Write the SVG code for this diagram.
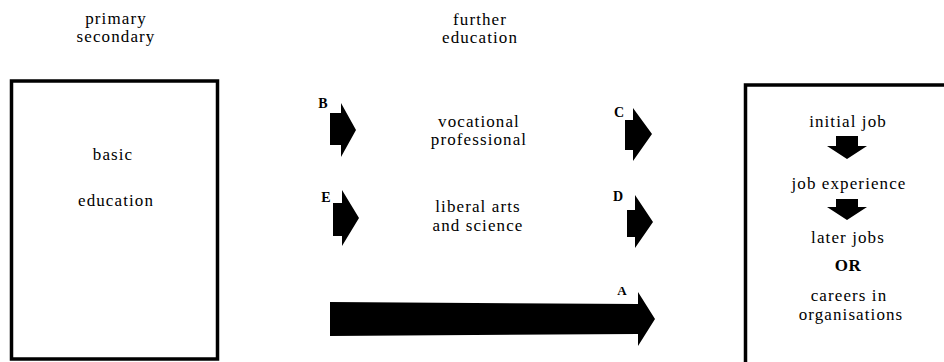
<svg xmlns="http://www.w3.org/2000/svg" width="944" height="362" viewBox="0 0 944 362">
<style>
text{font-family:"Liberation Serif","DejaVu Serif","Times New Roman",serif;font-size:17px;letter-spacing:1.1px;fill:#000;text-anchor:middle}
.lbl{font-size:14px;font-weight:bold;letter-spacing:0}
.bold{font-weight:bold;letter-spacing:0.5px}
.box{fill:none;stroke:#000;stroke-width:3.5}
.arrow{fill:#000;stroke:none}
</style>
<rect width="944" height="362" fill="#fff"/>
<g id="header-school">
<text x="116" y="24">primary</text>
<text x="116" y="42">secondary</text>
</g>
<g id="header-further">
<text x="480" y="25">further</text>
<text x="480" y="43">education</text>
</g>
<g id="basic-education">
<rect class="box" x="11.5" y="81" width="206" height="278"/>
<text x="113" y="160">basic</text>
<text x="116" y="206">education</text>
</g>
<g id="vocational">
<text x="479" y="127">vocational</text>
<text x="479" y="145">professional</text>
</g>
<g id="liberal">
<text x="478" y="212">liberal arts</text>
<text x="478" y="231">and science</text>
</g>
<g id="careers">
<rect class="box" x="745.5" y="85" width="300" height="300"/>
<text x="848" y="127">initial job</text>
<text x="849" y="189">job experience</text>
<text x="848" y="243">later jobs</text>
<text class="bold" x="848" y="271">OR</text>
<text x="849" y="301">careers in</text>
<text x="851" y="320">organisations</text>
</g>
<g id="connectors">
<g id="arrow-B">
<polygon class="arrow" points="330,113 341,113 341,103 356,130 341,157 341,145 330,145"/>
<text class="lbl" x="323" y="108">B</text>
</g>
<g id="arrow-C">
<polygon class="arrow" points="625,120 633,120 633,108 652,134 633,161 633,150 625,150"/>
<text class="lbl" x="619" y="117">C</text>
</g>
<g id="arrow-E">
<polygon class="arrow" points="333,203 342,203 342,190 359,218 342,246 342,236 333,236"/>
<text class="lbl" x="326" y="202">E</text>
</g>
<g id="arrow-D">
<polygon class="arrow" points="627,210 635,210 635,195 653,222 635,248 635,237 627,237"/>
<text class="lbl" x="618" y="201">D</text>
</g>
<g id="arrow-A">
<polygon class="arrow" points="330,302 638,304 638,292 655,319 638,346 638,334 330,336"/>
<text class="lbl" x="622" y="295" style="font-size:13px">A</text>
</g>
<polygon class="arrow" points="836,136 858,136 858,146 867,146 847,159 827,146 836,146"/>
<polygon class="arrow" points="836,199 858,199 858,207 867,207 847,220 827,207 836,207"/>
</g>
</svg>
